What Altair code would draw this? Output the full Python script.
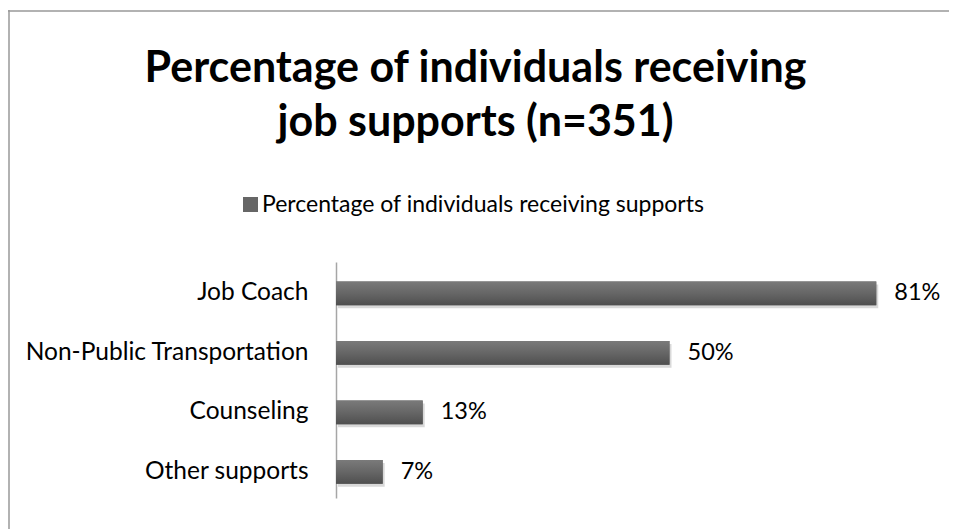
import altair as alt
import pandas as pd

categories = ["Job Coach", "Non-Public Transportation", "Counseling", "Other supports"]
values = [0.81, 0.50, 0.13, 0.07]
series_name = "Percentage of individuals receiving supports"
title_lines = ["Percentage of individuals receiving", "job supports (n=351)"]

df = pd.DataFrame({"category": categories, "value": values, "series": [series_name] * len(categories)})

W, H = 605, 236
FONT = "Lato"
FS = 23

y_enc = alt.Y(
    "category:N",
    sort=categories,
    scale=alt.Scale(paddingInner=0.6, paddingOuter=0.283, align=0.58),
    axis=alt.Axis(title=None, ticks=False, labelFontSize=24.5, labelFont=FONT, labelColor="#000000",
                  labelPadding=28, domainColor="#a6a6a6", domainWidth=1.5, labelLimit=0, grid=False),
)
x_enc = alt.X("value:Q", scale=alt.Scale(domain=[0, 1], range=[0, 667]), axis=None)

base = alt.Chart(df)

shadow = base.mark_bar(color="#cfcfcf", opacity=0.8, yOffset=3, xOffset=2).encode(x=x_enc, y=y_enc)

bars = base.mark_bar().encode(
    x=x_enc,
    y=y_enc,
    color=alt.Color(
        "series:N",
        scale=alt.Scale(range=["#666666"]),
        legend=alt.Legend(title=None, orient="none", legendX=-97, legendY=-69, symbolType="square",
                          symbolSize=225, labelFontSize=FS, labelFont=FONT, labelColor="#000000",
                          labelLimit=0, symbolStrokeWidth=0, symbolOpacity=1, padding=0, labelOffset=0),
    ),
)

grad = base.mark_bar(
    color=alt.LinearGradient(
        gradient="linear",
        stops=[alt.GradientStop(offset=0, color="#7a7a7a"),
               alt.GradientStop(offset=0.5, color="#666666"),
               alt.GradientStop(offset=1, color="#4f4f4f")],
        x1=0, x2=0, y1=0, y2=1,
    )
).encode(x=x_enc, y=y_enc)

labels = base.mark_text(align="left", baseline="middle", dx=18, fontSize=23.5, font=FONT, color="#000000").encode(
    x=x_enc, y=y_enc, text=alt.Text("value:Q", format=".0%")
)

frame_df = pd.DataFrame({"f": [0]})
frame_left = alt.Chart(frame_df).mark_rule(color="#999999", strokeWidth=1.5).encode(
    x=alt.value(-327), y=alt.value(-252), y2=alt.value(H + 200)
)
frame_top = alt.Chart(frame_df).mark_rule(color="#999999", strokeWidth=1.5).encode(
    x=alt.value(-328), x2=alt.value(W + 200), y=alt.value(-251)
)

chart = alt.layer(frame_left, frame_top, shadow, bars, grad, labels).properties(
    width=W,
    height=H,
    autosize=alt.AutoSizeParams(type="none"),
    padding={"left": 328, "top": 254, "right": 8, "bottom": 31},
    title=alt.TitleParams(text=title_lines, font=FONT, fontSize=43, fontWeight="bold", color="#000000",
                          anchor="middle", frame="group", dx=-163, offset=-136, lineHeight=54),
).configure_view(stroke=None)

chart.save("out.html", embed_options={"renderer": "svg", "actions": False})
